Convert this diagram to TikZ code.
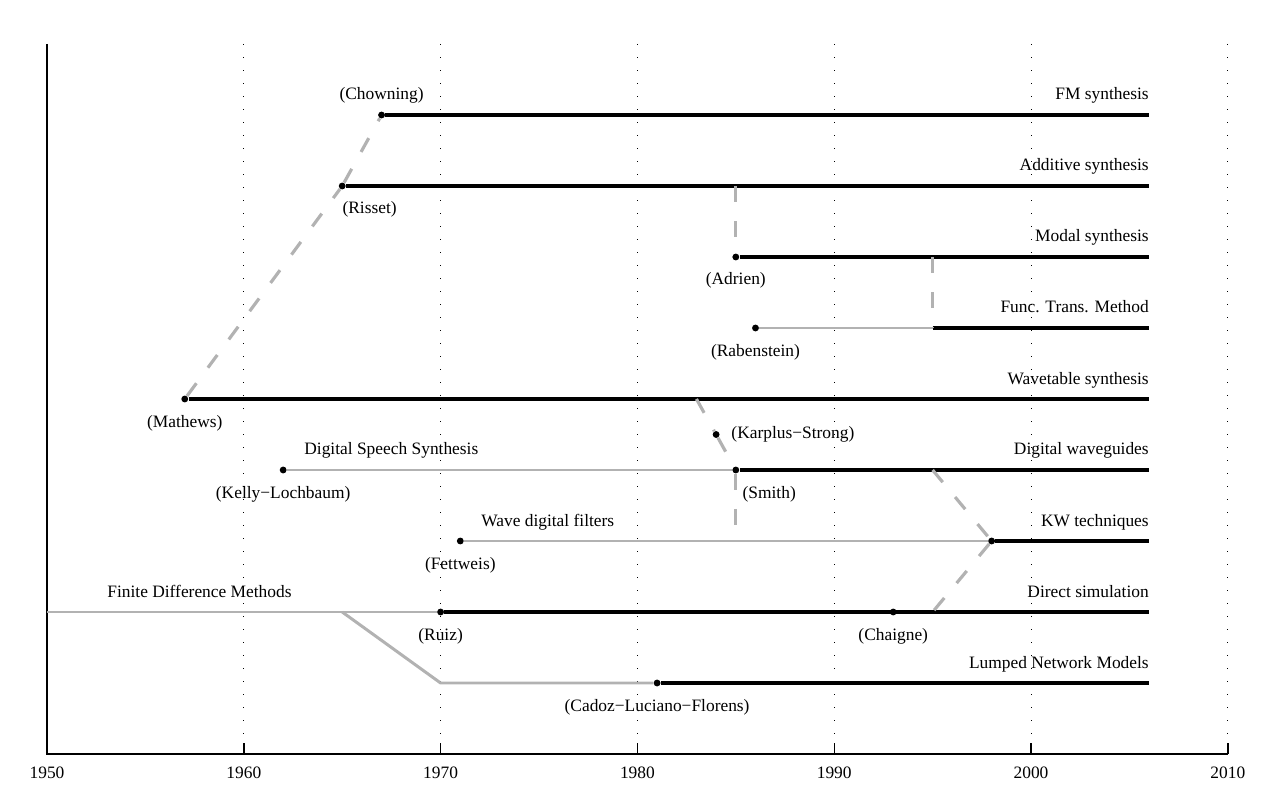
\documentclass[tikz,border=0pt]{standalone}
\usepackage{fontspec}
\setmainfont{Liberation Serif}
\usetikzlibrary{positioning}

\begin{document}
\begin{tikzpicture}[x=0.3936cm,y=1.42cm,font=\fontsize{9.9}{11}\selectfont,
  event/.style={circle,fill,inner sep=0pt,minimum size=3.9pt},
  era/.style={line width=2.1pt},
  proto/.style={line width=1.7pt,black!30},
  flow/.style={line width=1.8pt,black!30,dash pattern=on 9pt off 11pt},
  who/.style={anchor=base,yshift=-0.56cm,inner sep=0pt},
  method/.style={anchor=base east,yshift=0.3cm,inner sep=0pt},
  yr/.style={anchor=base,yshift=-0.48cm,inner sep=0pt}]
  \useasboundingbox (-0.94cm,-1.02cm) rectangle (24.66cm,15.08cm);
  % grid and axes
  \foreach \d in {10,20,...,60} {
    \draw[dash pattern=on 0.5pt off 6.9pt,line width=0.5pt] (\d,10) -- (\d,0);
    \draw[line width=0.8pt] (\d,0) -- ++(0,0.22cm);
  }
  \draw[line width=1.1pt] (0,10) -- (0,0) -- (60,0);
  \foreach \d/\y in {0/1950,10/1960,20/1970,30/1980,40/1990,50/2000,60/2010}
    \node[yr] (y\y) at (\d,0) {\y};
  % line ends and branch points
  \foreach \r/\n in {9/fm,8/add,7/modal,6/ftm,5/wt,4/dwg,3/kwt,2/direct,1/lumped}
    \coordinate (\n) at (56,\r);
  \coordinate (fdm) at (0,2);
  \coordinate (branch) at (15,2);
  \coordinate (bend) at (20,1);
  \coordinate (add-split) at (35,8);
  \coordinate (modal-split) at (45,7);
  \coordinate (ftm-split) at (45,6);
  \coordinate (wt-split) at (33,5);
  \coordinate (dwg-split) at (45,4);
  \coordinate (smith-tail) at (35,3);
  \coordinate (ds-split) at (45,2);
  % founders
  \node[event] (chowning) at (17,9) {};
  \node[event] (risset) at (15,8) {};
  \node[event] (adrien) at (35,7) {};
  \node[event] (rabenstein) at (36,6) {};
  \node[event] (mathews) at (7,5) {};
  \node[event] (karplus) at (34,4.5) {};
  \node[event] (kelly) at (12,4) {};
  \node[event] (smith) at (35,4) {};
  \node[event] (fettweis) at (21,3) {};
  \node[event] (kw) at (48,3) {};
  \node[event] (ruiz) at (20,2) {};
  \node[event] (chaigne) at (43,2) {};
  \node[event] (cadoz) at (31,1) {};
  % precursors
  \draw[proto] (rabenstein) -- (ftm-split);
  \draw[proto] (kelly) -- (smith);
  \draw[proto] (fettweis) -- (kw);
  \draw[proto] (fdm) -- (ruiz);
  \draw[proto] (branch) -- (bend) -- (cadoz);
  % methods
  \draw[era] (chowning) -- (fm);
  \draw[era] (risset) -- (add);
  \draw[era] (adrien) -- (modal);
  \draw[era] (ftm-split) -- (ftm);
  \draw[era] (mathews) -- (wt);
  \draw[era] (smith) -- (dwg);
  \draw[era] (kw) -- (kwt);
  \draw[era] (ruiz) -- (direct);
  \draw[era] (cadoz) -- (lumped);
  % influences
  \draw[flow] (mathews) -- (risset) -- (chowning);
  \draw[flow] (add-split) -- (adrien);
  \draw[flow] (modal-split) -- (ftm-split);
  \draw[flow] (wt-split) -- (karplus) -- (smith);
  \draw[flow] (smith) -- (smith-tail);
  \draw[flow] (dwg-split) -- (kw) -- (ds-split);
  % names
  \node[anchor=base,yshift=0.3cm,inner sep=0pt] (l-chowning) at (chowning) {(Chowning)};
  \node[who,anchor=base west] (l-risset) at (risset) {(Risset)};
  \node[who] (l-adrien) at (adrien) {(Adrien)};
  \node[who] (l-rabenstein) at (rabenstein) {(Rabenstein)};
  \node[who] (l-mathews) at (mathews) {(Mathews)};
  \node[anchor=base west,xshift=0.3cm,yshift=-0.08cm,inner sep=0pt] (l-karplus) at (karplus) {(Karplus\textminus Strong)};
  \node[who] (l-kelly) at (kelly) {(Kelly\textminus Lochbaum)};
  \node[who,anchor=base west,xshift=0.13cm] (l-smith) at (smith) {(Smith)};
  \node[who] (l-fettweis) at (fettweis) {(Fettweis)};
  \node[who] (l-ruiz) at (ruiz) {(Ruiz)};
  \node[who] (l-chaigne) at (chaigne) {(Chaigne)};
  \node[who] (l-cadoz) at (cadoz) {(Cadoz\textminus Luciano\textminus Florens)};
  \node[method,anchor=base west] (dss) at (13.06,4) {Digital Speech Synthesis};
  \node[method,anchor=base west] (wdf) at (22.05,3) {Wave digital filters};
  \node[method,anchor=base west] (fd) at (3.05,2) {Finite Difference Methods};
  \foreach \r/\t in {9/FM synthesis,8/Additive synthesis,7/Modal synthesis,
      6/Func. Trans. Method,5/Wavetable synthesis,4/Digital waveguides,
      3/KW techniques,2/Direct simulation,1/Lumped Network Models}
    \node[method] (m-\r) at (56,\r) {\t};
\end{tikzpicture}
\end{document}
